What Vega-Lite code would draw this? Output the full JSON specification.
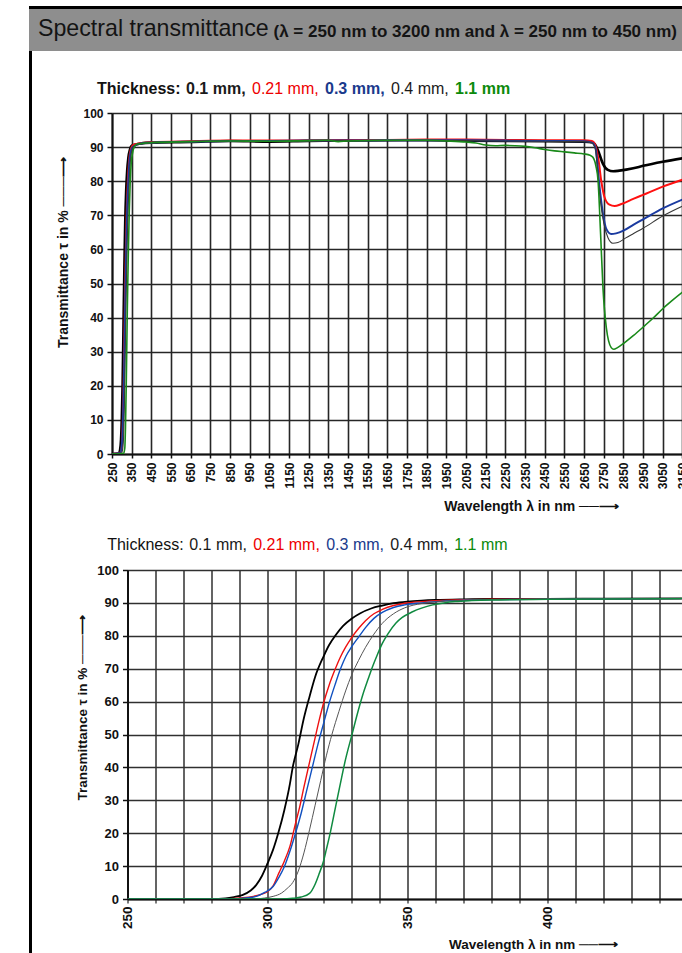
{
"$schema": "https://vega.github.io/schema/vega-lite/v6.json",
"padding": {"left": 29, "top": 6, "right": 0, "bottom": 0},
"background": "#ffffff",
"config": {"font": "Liberation Sans", "view": {"stroke": null}},
"datasets": {
"wide": [
{"s":"0.1 mm","w":250,"t":0},{"s":"0.1 mm","w":285,"t":0.2},{"s":"0.1 mm","w":291,"t":1.2},{"s":"0.1 mm","w":296,"t":4.3},{"s":"0.1 mm","w":300,"t":10.8},{"s":"0.1 mm","w":304,"t":20.5},{"s":"0.1 mm","w":309,"t":40},{"s":"0.1 mm","w":313,"t":55},{"s":"0.1 mm","w":317,"t":67.5},{"s":"0.1 mm","w":322,"t":77.2},{"s":"0.1 mm","w":327,"t":83},{"s":"0.1 mm","w":333,"t":86.8},{"s":"0.1 mm","w":341,"t":89.2},{"s":"0.1 mm","w":350,"t":90.4},{"s":"0.1 mm","w":400,"t":91.1},{"s":"0.1 mm","w":450,"t":91.3},{"s":"0.1 mm","w":650,"t":91.5},{"s":"0.1 mm","w":850,"t":91.8},{"s":"0.1 mm","w":1050,"t":91.6},{"s":"0.1 mm","w":1250,"t":91.8},{"s":"0.1 mm","w":1450,"t":91.9},{"s":"0.1 mm","w":1650,"t":92},{"s":"0.1 mm","w":1850,"t":92},{"s":"0.1 mm","w":2050,"t":91.9},{"s":"0.1 mm","w":2250,"t":91.8},{"s":"0.1 mm","w":2450,"t":91.7},{"s":"0.1 mm","w":2650,"t":91.6},{"s":"0.1 mm","w":2690,"t":91.4},{"s":"0.1 mm","w":2705,"t":90.8},{"s":"0.1 mm","w":2721,"t":89},{"s":"0.1 mm","w":2746,"t":85.1},{"s":"0.1 mm","w":2771,"t":83.3},{"s":"0.1 mm","w":2798,"t":82.9},{"s":"0.1 mm","w":2830,"t":83.1},{"s":"0.1 mm","w":2900,"t":83.8},{"s":"0.1 mm","w":2950,"t":84.5},{"s":"0.1 mm","w":3050,"t":85.7},{"s":"0.1 mm","w":3158,"t":86.8},
{"s":"0.21 mm","w":250,"t":0},{"s":"0.21 mm","w":290,"t":0.3},{"s":"0.21 mm","w":295,"t":0.8},{"s":"0.21 mm","w":300,"t":2.2},{"s":"0.21 mm","w":304,"t":7.8},{"s":"0.21 mm","w":308,"t":16},{"s":"0.21 mm","w":313,"t":34},{"s":"0.21 mm","w":318.5,"t":54.5},{"s":"0.21 mm","w":324,"t":69.5},{"s":"0.21 mm","w":330,"t":79.4},{"s":"0.21 mm","w":338,"t":86.7},{"s":"0.21 mm","w":349,"t":89.9},{"s":"0.21 mm","w":360,"t":90.7},{"s":"0.21 mm","w":400,"t":91.2},{"s":"0.21 mm","w":450,"t":91.4},{"s":"0.21 mm","w":650,"t":91.7},{"s":"0.21 mm","w":850,"t":91.9},{"s":"0.21 mm","w":1050,"t":91.9},{"s":"0.21 mm","w":1250,"t":92},{"s":"0.21 mm","w":1450,"t":92},{"s":"0.21 mm","w":1650,"t":92.1},{"s":"0.21 mm","w":1850,"t":92.2},{"s":"0.21 mm","w":2050,"t":92.2},{"s":"0.21 mm","w":2250,"t":92.1},{"s":"0.21 mm","w":2450,"t":92},{"s":"0.21 mm","w":2650,"t":92},{"s":"0.21 mm","w":2690,"t":91.8},{"s":"0.21 mm","w":2704,"t":91},{"s":"0.21 mm","w":2724,"t":86},{"s":"0.21 mm","w":2737,"t":80.2},{"s":"0.21 mm","w":2754,"t":75.3},{"s":"0.21 mm","w":2779,"t":73.1},{"s":"0.21 mm","w":2805,"t":72.7},{"s":"0.21 mm","w":2840,"t":73.3},{"s":"0.21 mm","w":2900,"t":74.8},{"s":"0.21 mm","w":2950,"t":76},{"s":"0.21 mm","w":3050,"t":78.4},{"s":"0.21 mm","w":3158,"t":80.6},
{"s":"0.3 mm","w":250,"t":0},{"s":"0.3 mm","w":292,"t":0.3},{"s":"0.3 mm","w":299,"t":2},{"s":"0.3 mm","w":304,"t":6.5},{"s":"0.3 mm","w":308,"t":14.5},{"s":"0.3 mm","w":312,"t":26},{"s":"0.3 mm","w":316,"t":40},{"s":"0.3 mm","w":320,"t":53.3},{"s":"0.3 mm","w":324.3,"t":65.6},{"s":"0.3 mm","w":328,"t":73.8},{"s":"0.3 mm","w":332.6,"t":79.7},{"s":"0.3 mm","w":338,"t":85.3},{"s":"0.3 mm","w":345,"t":88.6},{"s":"0.3 mm","w":355,"t":90},{"s":"0.3 mm","w":400,"t":91.1},{"s":"0.3 mm","w":450,"t":91.3},{"s":"0.3 mm","w":650,"t":91.6},{"s":"0.3 mm","w":850,"t":91.8},{"s":"0.3 mm","w":1050,"t":91.8},{"s":"0.3 mm","w":1250,"t":91.9},{"s":"0.3 mm","w":1450,"t":91.9},{"s":"0.3 mm","w":1650,"t":92},{"s":"0.3 mm","w":1850,"t":92},{"s":"0.3 mm","w":2050,"t":92},{"s":"0.3 mm","w":2250,"t":91.9},{"s":"0.3 mm","w":2450,"t":91.8},{"s":"0.3 mm","w":2650,"t":91.7},{"s":"0.3 mm","w":2690,"t":91.3},{"s":"0.3 mm","w":2707,"t":90},{"s":"0.3 mm","w":2729,"t":78.2},{"s":"0.3 mm","w":2746,"t":70.4},{"s":"0.3 mm","w":2763,"t":66},{"s":"0.3 mm","w":2788,"t":64.5},{"s":"0.3 mm","w":2813,"t":64.7},{"s":"0.3 mm","w":2850,"t":65.5},{"s":"0.3 mm","w":2900,"t":67.2},{"s":"0.3 mm","w":2950,"t":68.8},{"s":"0.3 mm","w":3050,"t":72},{"s":"0.3 mm","w":3158,"t":74.8},
{"s":"0.4 mm","w":250,"t":0},{"s":"0.4 mm","w":299,"t":0.3},{"s":"0.4 mm","w":305,"t":1.8},{"s":"0.4 mm","w":309,"t":5},{"s":"0.4 mm","w":313,"t":14},{"s":"0.4 mm","w":317,"t":28.5},{"s":"0.4 mm","w":321,"t":43.5},{"s":"0.4 mm","w":325.5,"t":57},{"s":"0.4 mm","w":330,"t":68},{"s":"0.4 mm","w":335,"t":76.5},{"s":"0.4 mm","w":341,"t":83.8},{"s":"0.4 mm","w":349,"t":88.5},{"s":"0.4 mm","w":360,"t":90.3},{"s":"0.4 mm","w":400,"t":91.1},{"s":"0.4 mm","w":450,"t":91.3},{"s":"0.4 mm","w":650,"t":91.6},{"s":"0.4 mm","w":850,"t":91.8},{"s":"0.4 mm","w":1050,"t":91.7},{"s":"0.4 mm","w":1250,"t":91.8},{"s":"0.4 mm","w":1450,"t":91.9},{"s":"0.4 mm","w":1650,"t":91.9},{"s":"0.4 mm","w":1850,"t":92},{"s":"0.4 mm","w":2050,"t":91.9},{"s":"0.4 mm","w":2250,"t":91.8},{"s":"0.4 mm","w":2450,"t":91.7},{"s":"0.4 mm","w":2650,"t":91.6},{"s":"0.4 mm","w":2690,"t":91.2},{"s":"0.4 mm","w":2707,"t":89.5},{"s":"0.4 mm","w":2729,"t":76.3},{"s":"0.4 mm","w":2751,"t":67.5},{"s":"0.4 mm","w":2771,"t":63.5},{"s":"0.4 mm","w":2796,"t":61.8},{"s":"0.4 mm","w":2822,"t":62},{"s":"0.4 mm","w":2860,"t":63.3},{"s":"0.4 mm","w":2900,"t":64.6},{"s":"0.4 mm","w":2950,"t":66.2},{"s":"0.4 mm","w":3050,"t":69.8},{"s":"0.4 mm","w":3158,"t":72.9},
{"s":"1.1 mm","w":250,"t":0},{"s":"1.1 mm","w":309,"t":0.2},{"s":"1.1 mm","w":315,"t":1.7},{"s":"1.1 mm","w":318.5,"t":7.8},{"s":"1.1 mm","w":322.5,"t":20.5},{"s":"1.1 mm","w":327.8,"t":42.2},{"s":"1.1 mm","w":332,"t":56},{"s":"1.1 mm","w":337.5,"t":70.6},{"s":"1.1 mm","w":343,"t":80.6},{"s":"1.1 mm","w":348,"t":85.5},{"s":"1.1 mm","w":355,"t":88.4},{"s":"1.1 mm","w":363,"t":90},{"s":"1.1 mm","w":380,"t":90.9},{"s":"1.1 mm","w":450,"t":91.3},{"s":"1.1 mm","w":650,"t":91.6},{"s":"1.1 mm","w":850,"t":91.8},{"s":"1.1 mm","w":1050,"t":91.7},{"s":"1.1 mm","w":1250,"t":91.9},{"s":"1.1 mm","w":1350,"t":92},{"s":"1.1 mm","w":1400,"t":91.6},{"s":"1.1 mm","w":1450,"t":91.8},{"s":"1.1 mm","w":1650,"t":92},{"s":"1.1 mm","w":1850,"t":92},{"s":"1.1 mm","w":1950,"t":91.8},{"s":"1.1 mm","w":2050,"t":91.5},{"s":"1.1 mm","w":2100,"t":91.2},{"s":"1.1 mm","w":2150,"t":90.6},{"s":"1.1 mm","w":2200,"t":90.4},{"s":"1.1 mm","w":2250,"t":90.5},{"s":"1.1 mm","w":2300,"t":90.4},{"s":"1.1 mm","w":2350,"t":90.2},{"s":"1.1 mm","w":2400,"t":89.8},{"s":"1.1 mm","w":2450,"t":89.3},{"s":"1.1 mm","w":2500,"t":88.9},{"s":"1.1 mm","w":2550,"t":88.6},{"s":"1.1 mm","w":2600,"t":88.3},{"s":"1.1 mm","w":2650,"t":88},{"s":"1.1 mm","w":2680,"t":87.6},{"s":"1.1 mm","w":2695,"t":87},{"s":"1.1 mm","w":2710,"t":84.5},{"s":"1.1 mm","w":2721,"t":80.2},{"s":"1.1 mm","w":2734,"t":64.5},{"s":"1.1 mm","w":2746,"t":48.8},{"s":"1.1 mm","w":2763,"t":37.1},{"s":"1.1 mm","w":2788,"t":31.2},{"s":"1.1 mm","w":2801,"t":30.7},{"s":"1.1 mm","w":2820,"t":31.2},{"s":"1.1 mm","w":2850,"t":32.4},{"s":"1.1 mm","w":2900,"t":34.7},{"s":"1.1 mm","w":2950,"t":37.2},{"s":"1.1 mm","w":3000,"t":39.8},{"s":"1.1 mm","w":3050,"t":42.6},{"s":"1.1 mm","w":3100,"t":45.1},{"s":"1.1 mm","w":3158,"t":47.8}
],
"uv": [
{"s":"0.1 mm","w":250,"t":0},{"s":"0.1 mm","w":280,"t":0},{"s":"0.1 mm","w":285,"t":0.2},{"s":"0.1 mm","w":288,"t":0.6},{"s":"0.1 mm","w":291,"t":1.2},{"s":"0.1 mm","w":294,"t":2.6},{"s":"0.1 mm","w":296,"t":4.3},{"s":"0.1 mm","w":298,"t":7},{"s":"0.1 mm","w":300,"t":10.8},{"s":"0.1 mm","w":302,"t":15},{"s":"0.1 mm","w":304,"t":20.5},{"s":"0.1 mm","w":306,"t":27},{"s":"0.1 mm","w":308,"t":35},{"s":"0.1 mm","w":309,"t":40},{"s":"0.1 mm","w":311,"t":47},{"s":"0.1 mm","w":313,"t":55},{"s":"0.1 mm","w":315,"t":61.5},{"s":"0.1 mm","w":317,"t":67.5},{"s":"0.1 mm","w":320,"t":73.7},{"s":"0.1 mm","w":322,"t":77.2},{"s":"0.1 mm","w":324.5,"t":80.4},{"s":"0.1 mm","w":327,"t":83},{"s":"0.1 mm","w":330,"t":85.2},{"s":"0.1 mm","w":333,"t":86.8},{"s":"0.1 mm","w":337,"t":88.3},{"s":"0.1 mm","w":341,"t":89.2},{"s":"0.1 mm","w":345,"t":89.9},{"s":"0.1 mm","w":350,"t":90.4},{"s":"0.1 mm","w":355,"t":90.7},{"s":"0.1 mm","w":360,"t":90.9},{"s":"0.1 mm","w":370,"t":91.1},{"s":"0.1 mm","w":380,"t":91.2},{"s":"0.1 mm","w":400,"t":91.2},{"s":"0.1 mm","w":420,"t":91.3},{"s":"0.1 mm","w":448,"t":91.4},
{"s":"0.21 mm","w":250,"t":0},{"s":"0.21 mm","w":285,"t":0},{"s":"0.21 mm","w":290,"t":0.3},{"s":"0.21 mm","w":295,"t":0.8},{"s":"0.21 mm","w":298,"t":1.5},{"s":"0.21 mm","w":300,"t":2.2},{"s":"0.21 mm","w":302,"t":4},{"s":"0.21 mm","w":304,"t":7.8},{"s":"0.21 mm","w":306,"t":11.5},{"s":"0.21 mm","w":308,"t":16},{"s":"0.21 mm","w":310,"t":23},{"s":"0.21 mm","w":311.5,"t":28},{"s":"0.21 mm","w":313,"t":34},{"s":"0.21 mm","w":315,"t":41.5},{"s":"0.21 mm","w":317,"t":49},{"s":"0.21 mm","w":318.5,"t":54.5},{"s":"0.21 mm","w":320,"t":59.5},{"s":"0.21 mm","w":322,"t":65},{"s":"0.21 mm","w":324,"t":69.5},{"s":"0.21 mm","w":326,"t":73.5},{"s":"0.21 mm","w":328,"t":76.7},{"s":"0.21 mm","w":330,"t":79.4},{"s":"0.21 mm","w":332.5,"t":82.2},{"s":"0.21 mm","w":335,"t":84.6},{"s":"0.21 mm","w":338,"t":86.7},{"s":"0.21 mm","w":341,"t":88},{"s":"0.21 mm","w":345,"t":89.2},{"s":"0.21 mm","w":349,"t":89.9},{"s":"0.21 mm","w":355,"t":90.4},{"s":"0.21 mm","w":360,"t":90.7},{"s":"0.21 mm","w":370,"t":91},{"s":"0.21 mm","w":380,"t":91.1},{"s":"0.21 mm","w":400,"t":91.2},{"s":"0.21 mm","w":448,"t":91.3},
{"s":"0.3 mm","w":250,"t":0},{"s":"0.3 mm","w":288,"t":0},{"s":"0.3 mm","w":292,"t":0.3},{"s":"0.3 mm","w":296,"t":0.8},{"s":"0.3 mm","w":299,"t":2},{"s":"0.3 mm","w":302,"t":3.8},{"s":"0.3 mm","w":304,"t":6.5},{"s":"0.3 mm","w":306,"t":9.8},{"s":"0.3 mm","w":308,"t":14.5},{"s":"0.3 mm","w":310,"t":20},{"s":"0.3 mm","w":312,"t":26},{"s":"0.3 mm","w":314,"t":33},{"s":"0.3 mm","w":316,"t":40},{"s":"0.3 mm","w":318,"t":47},{"s":"0.3 mm","w":320,"t":53.3},{"s":"0.3 mm","w":322,"t":59.5},{"s":"0.3 mm","w":324.3,"t":65.6},{"s":"0.3 mm","w":326,"t":69.8},{"s":"0.3 mm","w":328,"t":73.8},{"s":"0.3 mm","w":330,"t":76.6},{"s":"0.3 mm","w":332.6,"t":79.7},{"s":"0.3 mm","w":335,"t":82.5},{"s":"0.3 mm","w":338,"t":85.3},{"s":"0.3 mm","w":341,"t":87.1},{"s":"0.3 mm","w":345,"t":88.6},{"s":"0.3 mm","w":349,"t":89.4},{"s":"0.3 mm","w":355,"t":90},{"s":"0.3 mm","w":360,"t":90.4},{"s":"0.3 mm","w":370,"t":90.8},{"s":"0.3 mm","w":380,"t":91},{"s":"0.3 mm","w":400,"t":91.1},{"s":"0.3 mm","w":448,"t":91.3},
{"s":"0.4 mm","w":250,"t":0},{"s":"0.4 mm","w":295,"t":0},{"s":"0.4 mm","w":299,"t":0.3},{"s":"0.4 mm","w":302,"t":0.8},{"s":"0.4 mm","w":305,"t":1.8},{"s":"0.4 mm","w":307,"t":3.2},{"s":"0.4 mm","w":309,"t":5},{"s":"0.4 mm","w":311,"t":8.5},{"s":"0.4 mm","w":313,"t":14},{"s":"0.4 mm","w":315,"t":21},{"s":"0.4 mm","w":317,"t":28.5},{"s":"0.4 mm","w":319,"t":36},{"s":"0.4 mm","w":321,"t":43.5},{"s":"0.4 mm","w":323,"t":50},{"s":"0.4 mm","w":325.5,"t":57},{"s":"0.4 mm","w":328,"t":63.5},{"s":"0.4 mm","w":330,"t":68},{"s":"0.4 mm","w":332.5,"t":72.5},{"s":"0.4 mm","w":335,"t":76.5},{"s":"0.4 mm","w":338,"t":80.5},{"s":"0.4 mm","w":341,"t":83.8},{"s":"0.4 mm","w":345,"t":86.7},{"s":"0.4 mm","w":349,"t":88.5},{"s":"0.4 mm","w":355,"t":89.8},{"s":"0.4 mm","w":360,"t":90.3},{"s":"0.4 mm","w":370,"t":90.8},{"s":"0.4 mm","w":380,"t":91},{"s":"0.4 mm","w":400,"t":91.1},{"s":"0.4 mm","w":448,"t":91.3},
{"s":"1.1 mm","w":250,"t":0},{"s":"1.1 mm","w":305,"t":0},{"s":"1.1 mm","w":309,"t":0.2},{"s":"1.1 mm","w":312,"t":0.6},{"s":"1.1 mm","w":315,"t":1.7},{"s":"1.1 mm","w":317,"t":4.5},{"s":"1.1 mm","w":318.5,"t":7.8},{"s":"1.1 mm","w":320,"t":11.5},{"s":"1.1 mm","w":321,"t":15},{"s":"1.1 mm","w":322.5,"t":20.5},{"s":"1.1 mm","w":324.3,"t":28},{"s":"1.1 mm","w":326,"t":35},{"s":"1.1 mm","w":327.8,"t":42.2},{"s":"1.1 mm","w":330.3,"t":50.4},{"s":"1.1 mm","w":332,"t":56},{"s":"1.1 mm","w":334,"t":62},{"s":"1.1 mm","w":336,"t":67},{"s":"1.1 mm","w":337.5,"t":70.6},{"s":"1.1 mm","w":339,"t":73.8},{"s":"1.1 mm","w":341,"t":77.7},{"s":"1.1 mm","w":343,"t":80.6},{"s":"1.1 mm","w":345.8,"t":83.8},{"s":"1.1 mm","w":348,"t":85.5},{"s":"1.1 mm","w":351.8,"t":87.3},{"s":"1.1 mm","w":355,"t":88.4},{"s":"1.1 mm","w":359,"t":89.4},{"s":"1.1 mm","w":363,"t":90},{"s":"1.1 mm","w":367,"t":90.4},{"s":"1.1 mm","w":373,"t":90.7},{"s":"1.1 mm","w":380,"t":90.9},{"s":"1.1 mm","w":400,"t":91.1},{"s":"1.1 mm","w":448,"t":91.3}
]
},
"spacing": 0,
"align": "none",
"vconcat": [
{"width": 653, "height": 3, "view": {"fill": "#000000", "stroke": null}, "data": {"values": []}, "mark": "point"},
{"width": 653, "height": 42, "view": {"fill": "#8e8e8e", "stroke": null}, "data": {"values": [{}]},
 "layer": [
  {"mark": {"type": "text", "text": "Spectral transmittance", "align": "left", "baseline": "alphabetic", "dx": -317.5, "dy": 6, "fontSize": 23.2, "color": "#141414"}},
  {"mark": {"type": "text", "text": "(λ = 250 nm to 3200 nm and λ = 250 nm to 450 nm)", "align": "left", "baseline": "alphabetic", "dx": -82, "dy": 7, "fontSize": 17, "fontWeight": "bold", "color": "#141414"}}
 ]},
{"spacing": 10, "align": "none",
 "hconcat": [
  {"width": 3, "height": 902, "view": {"fill": "#000000", "stroke": null}, "data": {"values": []}, "mark": "point"},
  {"spacing": 23, "align": "none",
   "resolve": {"scale": {"color": "independent", "strokeWidth": "independent", "x": "independent", "y": "independent"}, "legend": {"color": "independent", "strokeWidth": "independent"}},
   "vconcat": [
    {"width": 1, "height": 1, "data": {"values": []}, "mark": "point"},
    {"spacing": 13, "align": "none",
     "resolve": {"scale": {"color": "independent", "strokeWidth": "independent"}, "legend": {"color": "independent", "strokeWidth": "independent"}},
     "hconcat": [
      {"width": 1, "height": 1, "data": {"values": []}, "mark": "point"},
      {"width": 572, "height": 341, "data": {"name": "wide"},
     "mark": {"type": "line", "interpolate": "monotone", "clip": true},
     "encoding": {
      "x": {"field": "w", "type": "quantitative", "scale": {"domain": [250, 3158], "nice": false, "zero": false},
        "axis": {"values": [250,350,450,550,650,750,850,950,1050,1150,1250,1350,1450,1550,1650,1750,1850,1950,2050,2150,2250,2350,2450,2550,2650,2750,2850,2950,3050,3150],
          "format": "d",
          "labelAngle": -90, "labelFontSize": 12, "labelFontWeight": "bold", "labelColor": "#111", "labelPadding": 4, "labelOverlap": false, "labelFlush": false,
          "tickSize": 4, "tickColor": "#111", "tickWidth": 1.5, "domainColor": "#111", "domainWidth": 2,
          "grid": true, "gridColor": "#262626", "gridWidth": 1.6,
          "title": "Wavelength λ in nm    ──⟶", "titleFontSize": 14, "titleFontWeight": "bold", "titleColor": "#111", "titleAlign": "left", "titleX": 331.7, "titlePadding": 11}},
      "y": {"field": "t", "type": "quantitative", "scale": {"domain": [0, 100], "nice": false},
        "axis": {"values": [0,10,20,30,40,50,60,70,80,90,100],
          "labelFontSize": 12, "labelFontWeight": "bold", "labelColor": "#111", "labelPadding": 4,
          "tickSize": 5, "tickColor": "#111", "tickWidth": 1.5, "domainColor": "#111", "domainWidth": 2,
          "grid": true, "gridColor": "#262626", "gridWidth": 1.6,
          "title": "Transmittance τ in %    ───⟶", "titleFontSize": 14, "titleFontWeight": "bold", "titleColor": "#111", "titleAlign": "left", "titleY": 234.5, "titlePadding": 12}},
      "color": {"field": "s", "type": "nominal",
        "scale": {"domain": ["0.1 mm","0.21 mm","0.3 mm","0.4 mm","1.1 mm"], "range": ["#000000","#ff1010","#1a3aa0","#383838","#1a8a1a"]},
        "legend": {"orient": "none", "legendX": -20, "legendY": -37.5, "padding": 5, "direction": "horizontal",
          "title": "Thickness:", "titleOrient": "left", "titleFontSize": 16, "titleFontWeight": "bold", "titleColor": "#111", "titlePadding": 5,
          "labelFontSize": 16, "labelOffset": -16, "columnPadding": 6, "symbolSize": 0, "symbolOpacity": 0, "symbolStrokeWidth": 0,
          "labelExpr": "datum.value === '1.1 mm' ? datum.value : datum.value + ','",
          "encode": {"labels": {"update": {
            "fill": {"signal": "datum.value === '0.21 mm' ? '#ee0000' : datum.value === '0.3 mm' ? '#1a3a8c' : datum.value === '1.1 mm' ? '#0b8a0b' : '#1a1a1a'"},
            "fontWeight": {"signal": "datum.value === '0.4 mm' || datum.value === '0.21 mm' ? 'normal' : 'bold'"}}}}}},
      "strokeWidth": {"field": "s", "type": "ordinal", "scale": {"type": "ordinal", "domain": ["0.1 mm","0.21 mm","0.3 mm","0.4 mm","1.1 mm"], "range": [2.6, 2, 2, 1.1, 1.6]}, "legend": null}
     }}
     ]},
    {"spacing": 32.5, "align": "none",
     "resolve": {"scale": {"color": "independent", "strokeWidth": "independent"}, "legend": {"color": "independent", "strokeWidth": "independent"}},
     "hconcat": [
      {"width": 1, "height": 1, "data": {"values": []}, "mark": "point"},
      {"width": 555, "height": 329, "data": {"name": "uv"},
       "mark": {"type": "line", "interpolate": "monotone", "clip": true},
       "encoding": {
        "x": {"field": "w", "type": "quantitative", "scale": {"domain": [250, 448.2], "nice": false, "zero": false},
          "axis": {"values": [250,260,270,280,290,300,310,320,330,340,350,360,370,380,390,400,410,420,430,440],
            "labelExpr": "datum.value % 50 === 0 ? datum.label : ''",
            "labelAngle": -90, "labelFontSize": 13.5, "labelFontWeight": "bold", "labelColor": "#111", "labelPadding": 3, "labelOverlap": false, "labelFlush": false,
            "tickSize": 4, "tickColor": "#222", "tickWidth": 1.2, "domainColor": "#111", "domainWidth": 2,
            "grid": true, "gridColor": "#303030", "gridWidth": 1.5,
            "title": "Wavelength λ in nm    ──⟶", "titleFontSize": 13.5, "titleFontWeight": "bold", "titleColor": "#111", "titleAlign": "left", "titleX": 321, "titlePadding": 9}},
        "y": {"field": "t", "type": "quantitative", "scale": {"domain": [0, 100], "nice": false},
          "axis": {"values": [0,10,20,30,40,50,60,70,80,90,100],
            "labelFontSize": 13, "labelFontWeight": "bold", "labelColor": "#111", "labelPadding": 4,
            "tickSize": 5, "tickColor": "#111", "tickWidth": 1.5, "domainColor": "#111", "domainWidth": 2,
            "grid": true, "gridColor": "#303030", "gridWidth": 1.5,
            "title": "Transmittance τ in %    ───⟶", "titleFontSize": 13.5, "titleFontWeight": "bold", "titleColor": "#111", "titleAlign": "left", "titleY": 230, "titlePadding": 7}},
        "color": {"field": "s", "type": "nominal",
          "scale": {"domain": ["0.1 mm","0.21 mm","0.3 mm","0.4 mm","1.1 mm"], "range": ["#000000","#ee1010","#1050c0","#555555","#108a40"]},
          "legend": {"orient": "none", "legendX": -20.3, "legendY": -33, "padding": 0, "direction": "horizontal",
            "title": "Thickness:", "titleOrient": "left", "titleFontSize": 16, "titleFontWeight": "normal", "titleColor": "#111", "titlePadding": 5,
            "labelFontSize": 16, "labelOffset": -16, "columnPadding": 6, "symbolSize": 0, "symbolOpacity": 0, "symbolStrokeWidth": 0,
            "labelExpr": "datum.value === '1.1 mm' ? datum.value : datum.value + ','",
            "encode": {"labels": {"update": {
              "fill": {"signal": "datum.value === '0.21 mm' ? '#ee0000' : datum.value === '0.3 mm' ? '#1a3a8c' : datum.value === '1.1 mm' ? '#0b8a0b' : '#1a1a1a'"},
              "fontWeight": {"value": "normal"}}}}}},
        "strokeWidth": {"field": "s", "type": "ordinal", "scale": {"type": "ordinal", "domain": ["0.1 mm","0.21 mm","0.3 mm","0.4 mm","1.1 mm"], "range": [1.8, 1.4, 1.4, 1, 1.5]}, "legend": null}
       }}
     ]}
   ]}
 ]}
]
}
